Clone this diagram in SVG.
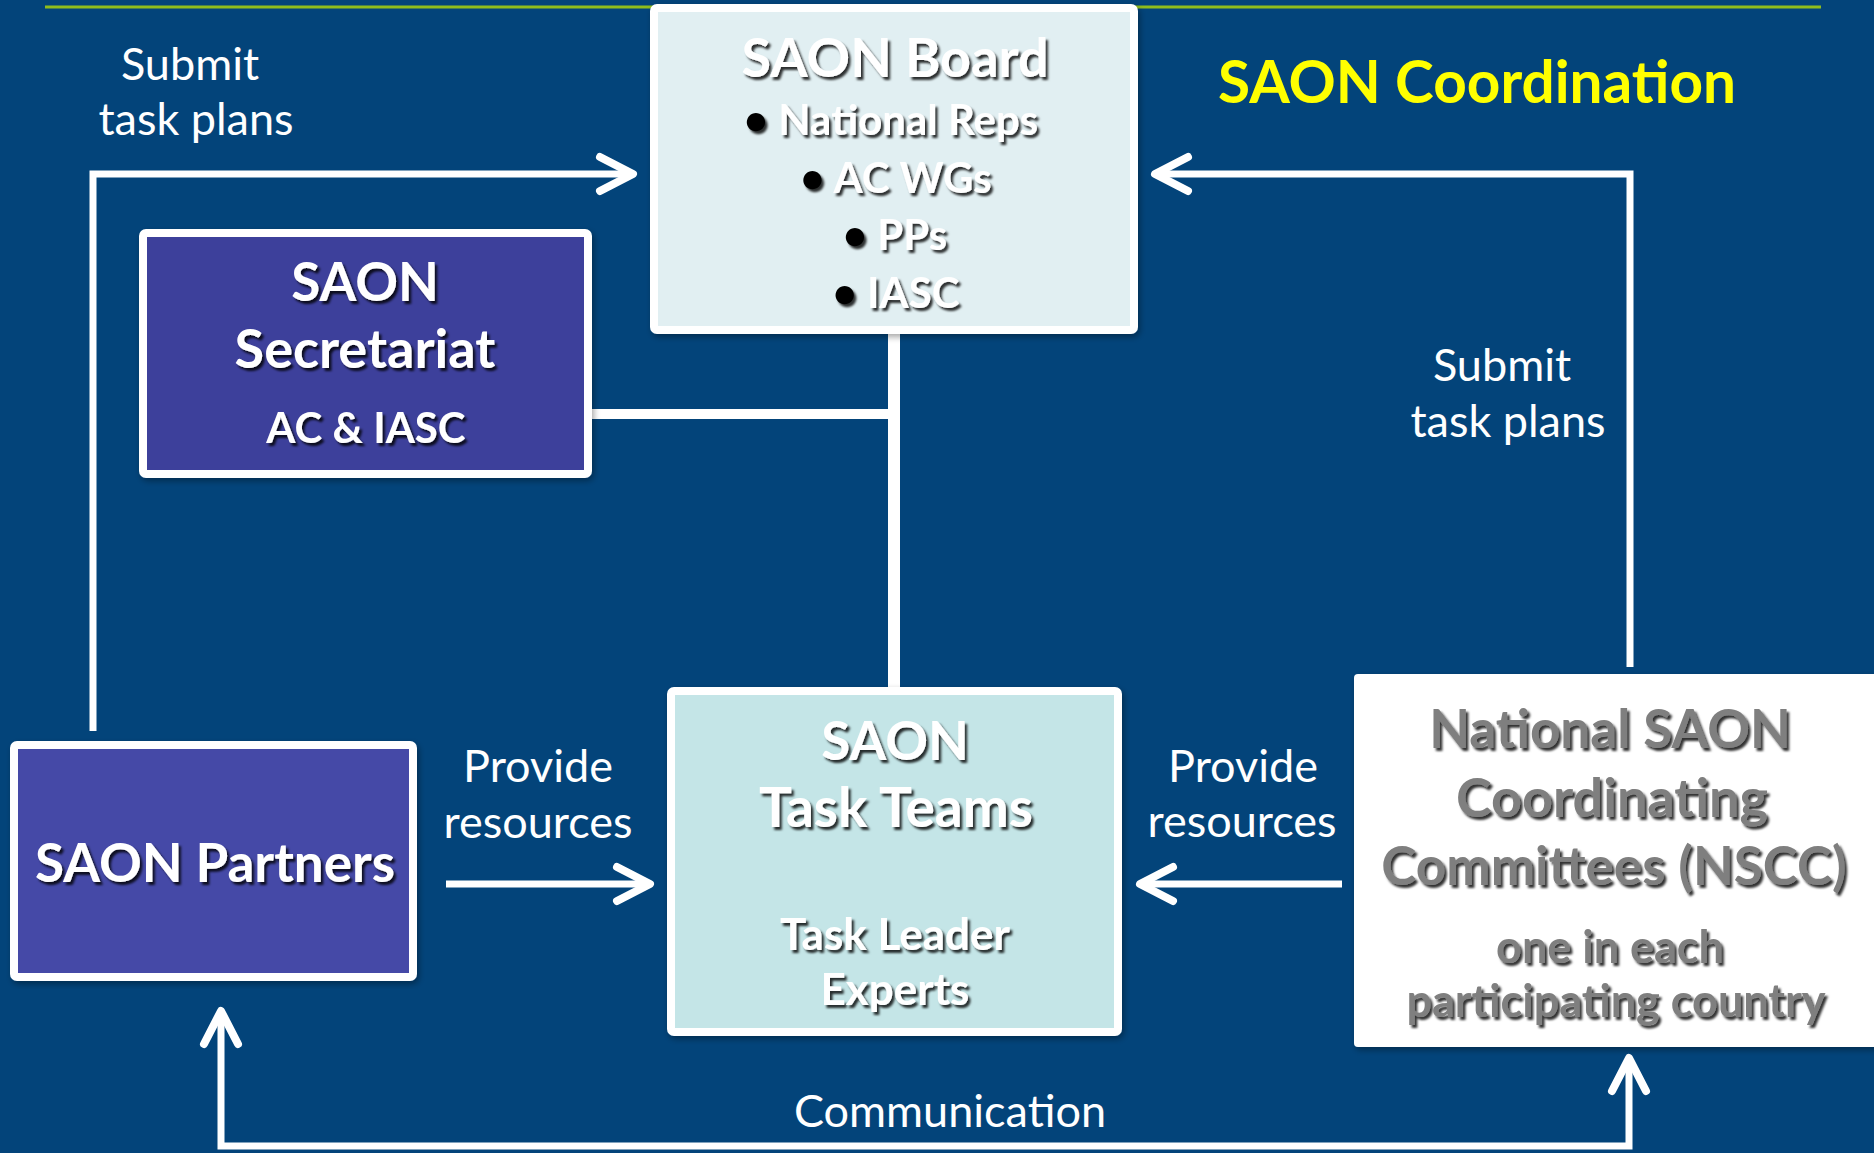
<svg xmlns="http://www.w3.org/2000/svg" width="1874" height="1153" viewBox="0 0 1874 1153">
<defs>
<style>
.lbl{font-family:Lato,"Open Sans","Liberation Sans",sans-serif;font-size:45px;fill:#fff;text-anchor:middle}
.bt{font-family:Lato,"Open Sans","Liberation Sans",sans-serif;font-weight:bold;fill:#fff;text-anchor:middle;filter:url(#ts)}
.gt{font-family:Lato,"Open Sans","Liberation Sans",sans-serif;font-weight:bold;fill:#7f7f7f;text-anchor:middle;filter:url(#ts)}
.box{stroke:#fff;stroke-width:8;filter:url(#bs)}
.con{fill:none;stroke:#fff;stroke-width:7}
</style>
<filter id="ts" x="-10%" y="-30%" width="120%" height="160%">
<feDropShadow dx="2.5" dy="3" stdDeviation="1.2" flood-color="#000" flood-opacity="0.8"/>
</filter>
<filter id="bs" x="-5%" y="-5%" width="110%" height="110%">
<feDropShadow dx="2" dy="3" stdDeviation="3" flood-color="#000" flood-opacity="0.35"/>
</filter>
<marker id="ah" markerUnits="userSpaceOnUse" markerWidth="60" markerHeight="60" viewBox="-45 -30 60 60" refX="0" refY="0" orient="auto-start-reverse" overflow="visible">
<path d="M-33,-17 L0,0 L-33,17" fill="none" stroke="#fff" stroke-width="8" stroke-linecap="round" stroke-linejoin="round"/>
</marker>
</defs>
<rect width="1874" height="1153" fill="#03447a"/>
<line x1="45" y1="7" x2="1821" y2="7" stroke="#8fbd1c" stroke-width="3"/>

<g id="connectors">
<path class="con" d="M93,731 V174 H633" marker-end="url(#ah)"/>
<path class="con" d="M1630,667 V174 H1155" marker-end="url(#ah)"/>
<path class="con" style="stroke-width:12" d="M894,334 V687"/>
<path class="con" style="stroke-width:10" d="M592,414 H894"/>
<path class="con" d="M446,884 H650" marker-end="url(#ah)"/>
<path class="con" d="M1342,884 H1140" marker-end="url(#ah)"/>
<path class="con" d="M221,1011 V1146 H1629 V1058" marker-start="url(#ah)" marker-end="url(#ah)"/>
</g>

<g id="divider">
<line x1="13" y1="603" x2="1874" y2="603" stroke="#ffff00" stroke-width="12" stroke-dasharray="40 13.6" filter="url(#bs)"/>
</g>

<g id="title">
<text x="1477" y="103" font-family="Lato,'Open Sans','Liberation Sans',sans-serif" font-weight="bold" font-size="58.5" fill="#ffff00" text-anchor="middle">SAON Coordination</text>
</g>

<g id="label-submit-left">
<text class="lbl" x="190" y="80">Submit</text>
<text class="lbl" x="196" y="135">task plans</text>
</g>
<g id="label-submit-right">
<text class="lbl" x="1502" y="381">Submit</text>
<text class="lbl" x="1508" y="437">task plans</text>
</g>
<g id="label-provide-left">
<text class="lbl" x="538" y="782">Provide</text>
<text class="lbl" x="538" y="838">resources</text>
</g>
<g id="label-provide-right">
<text class="lbl" x="1243" y="782">Provide</text>
<text class="lbl" x="1242" y="837">resources</text>
</g>
<g id="label-communication">
<text class="lbl" x="950" y="1127">Communication</text>
</g>

<g id="board">
<rect class="box" x="654" y="8" width="480" height="322" rx="3" fill="#e1eff2"/>
<text class="bt" x="895" y="77" font-size="54">SAON Board</text>
<text class="bt" x="891" y="135" font-size="42"><tspan fill="#000">•</tspan> National Reps</text>
<text class="bt" x="896" y="193" font-size="42"><tspan fill="#000">•</tspan> AC WGs</text>
<text class="bt" x="895" y="250" font-size="42"><tspan fill="#000">•</tspan> PPs</text>
<text class="bt" x="896" y="308" font-size="42"><tspan fill="#000">•</tspan> IASC</text>
</g>

<g id="secretariat">
<rect class="box" x="143" y="233" width="445" height="241" rx="3" fill="#3e3f9b"/>
<text class="bt" x="365" y="301" font-size="53">SAON</text>
<text class="bt" x="365" y="368" font-size="54">Secretariat</text>
<text class="bt" x="366" y="443" font-size="42">AC &amp; IASC</text>
</g>

<g id="partners">
<rect class="box" x="14" y="745" width="399" height="232" rx="3" fill="#444aa7"/>
<text class="bt" x="215" y="882" font-size="53">SAON Partners</text>
</g>

<g id="taskteams">
<rect class="box" x="671" y="691" width="447" height="341" rx="3" fill="#c4e5e7"/>
<text class="bt" x="895" y="760" font-size="53">SAON</text>
<text class="bt" x="896" y="827" font-size="55">Task Teams</text>
<text class="bt" x="895" y="950" font-size="44">Task Leader</text>
<text class="bt" x="895" y="1005" font-size="44">Experts</text>
</g>

<g id="nscc">
<rect x="1354" y="674" width="530" height="373" rx="4" fill="#ffffff" filter="url(#bs)"/>
<text class="gt" x="1610" y="748" font-size="53">National SAON</text>
<text class="gt" x="1612" y="817" font-size="54">Coordinating</text>
<text class="gt" x="1614" y="885" font-size="53">Committees (NSCC)</text>
<text class="gt" x="1610" y="963" font-size="45">one in each</text>
<text class="gt" x="1616" y="1017" font-size="45">participating country</text>
</g>
</svg>
